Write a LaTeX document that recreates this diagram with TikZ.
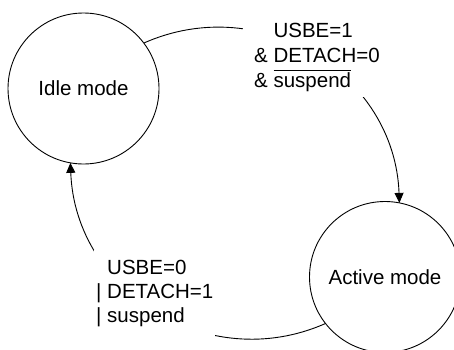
\documentclass[tikz,border=0pt]{standalone}
\usepackage{fontspec}
\setmainfont{Liberation Sans}
\usetikzlibrary{arrows.meta}
\newcommand\myoverbar[1]{\setbox0\hbox{#1}\rlap{\rule[17pt]{\wd0}{0.9pt}}\box0}
\begin{document}
\begin{tikzpicture}[x=1pt,y=1pt,
  statebox/.style={circle,draw,line width=0.9pt,inner sep=0pt,outer sep=0pt,minimum size=151pt,font=\fontsize{20.5}{24}\selectfont},
  conn/.style={line width=0.9pt},
  arr/.style={-{Triangle[length=10pt,width=9pt]}},
  lbl/.style={fill=white,anchor=base west,inner sep=0pt}]
\useasboundingbox (0,0) rectangle (454,349);
\clip (0,0) rectangle (454,349);
\node[statebox] (idle) at (83.5,260.5) {Idle mode};
\node[statebox] (active) at (385,72) {Active mode};
\draw[conn,arr] (idle.37) .. controls +(23.97:128.9) and +(92.1:128.9) .. (active.79);
\draw[conn,arr] (active.218) .. controls +(203.84:128.8) and +(272.16:128.8) .. (idle.260);
\node[lbl,inner xsep=11pt,inner ysep=2.5pt,font=\fontsize{20.5}{25}\selectfont] (upl) at (243,312)
  {\begin{tabular}[t]{@{}l@{}}\phantom{\& }USBE=1\\ \& DETACH=0\\ \& \myoverbar{suspend}\end{tabular}};
\node[lbl,inner xsep=2pt,inner ysep=7.5pt,font=\fontsize{20.5}{24}\selectfont] (dnl) at (94,75)
  {\begin{tabular}[t]{@{}l@{}}\phantom{| }USBE=0\\ | DETACH=1\\ | suspend\end{tabular}};
\end{tikzpicture}
\end{document}
